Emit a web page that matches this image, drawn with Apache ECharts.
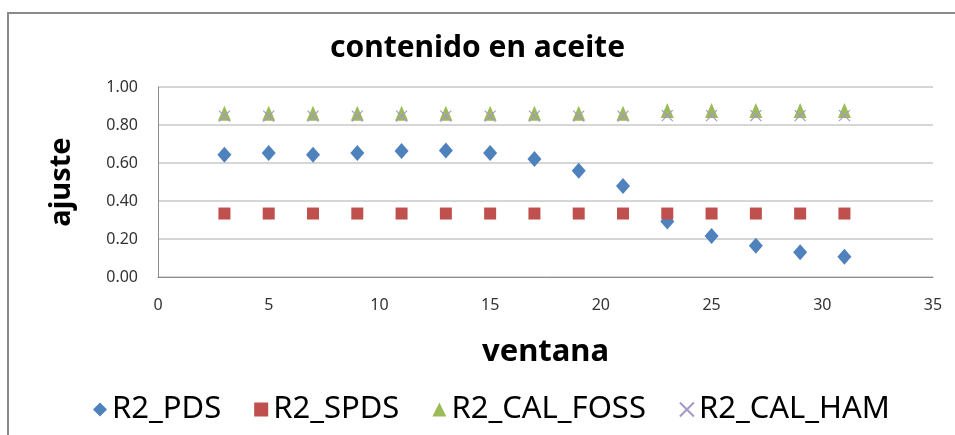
<!DOCTYPE html>
<html>
<head>
<meta charset="utf-8">
<script src="https://cdn.jsdelivr.net/npm/echarts@6/dist/echarts.min.js"></script>
<style>
  html, body { margin: 0; padding: 0; background: #fff; }
  #chart { width: 955px; height: 435px; }
</style>
</head>
<body>
<div id="chart"></div>
<script>
// datos
const ventana = [3, 5, 7, 9, 11, 13, 15, 17, 19, 21, 23, 25, 27, 29, 31];
const r2Pds = [0.643, 0.652, 0.643, 0.652, 0.663, 0.666, 0.652, 0.621, 0.559, 0.479, 0.292, 0.216, 0.164, 0.13, 0.107];
const r2Spds = [0.334, 0.334, 0.334, 0.334, 0.334, 0.334, 0.334, 0.334, 0.334, 0.334, 0.334, 0.334, 0.334, 0.334, 0.334];
const r2CalFoss = [0.862, 0.862, 0.862, 0.862, 0.862, 0.862, 0.862, 0.862, 0.862, 0.862, 0.876, 0.876, 0.876, 0.876, 0.876];
const r2CalHam = [0.847, 0.847, 0.847, 0.847, 0.847, 0.847, 0.847, 0.847, 0.847, 0.847, 0.849, 0.849, 0.849, 0.849, 0.849];
const yTicks = [0, 0.2, 0.4, 0.6, 0.8, 1.0];

const font = "'Liberation Sans Narrow', 'Noto Sans', sans-serif";
const pair = (ys) => ventana.map((x, i) => [x, ys[i]]);

const chart = echarts.init(document.getElementById("chart"));
chart.setOption({
  animation: false,
  textStyle: { fontFamily: font },
  graphic: [{
    type: "rect",
    shape: { x: 8, y: 13, width: 960, height: 440 },
    style: { fill: "none", stroke: "#8a8a8a", lineWidth: 2 },
    silent: true
  }],
  title: {
    text: "contenido en aceite",
    left: "center",
    top: 28,
    textStyle: { fontSize: 30, fontWeight: "bold", color: "#000", fontFamily: font }
  },
  grid: { left: 158, right: 22, top: 87, bottom: 158 },
  legend: {
    bottom: 5,
    left: 88,
    itemGap: 33,
    itemWidth: 14,
    itemHeight: 14,
    textStyle: { fontSize: 31, color: "#000", fontFamily: font },
    data: ["R2_PDS", "R2_SPDS", "R2_CAL_FOSS", "R2_CAL_HAM"]
  },
  xAxis: {
    type: "value",
    min: 0, max: 35, interval: 5,
    name: "ventana",
    nameLocation: "middle",
    nameGap: 60,
    nameTextStyle: { fontSize: 31, fontWeight: "bold", color: "#000", fontFamily: font },
    axisLine: { show: true, lineStyle: { color: "#8c8c8c" } },
    axisTick: { show: false },
    splitLine: { show: false },
    axisLabel: { fontSize: 16, color: "#333", margin: 20, fontFamily: font }
  },
  yAxis: {
    type: "value",
    min: yTicks[0], max: yTicks[yTicks.length - 1], interval: 0.2,
    name: "ajuste",
    nameLocation: "middle",
    nameGap: 82,
    nameTextStyle: { fontSize: 29, fontWeight: "bold", color: "#000", fontFamily: font },
    axisLine: { show: true, lineStyle: { color: "#8c8c8c" } },
    axisTick: { show: false },
    splitLine: { show: true, lineStyle: { color: "#c8c8c8", width: 1.5 } },
    axisLabel: { fontSize: 16, color: "#333", margin: 20, fontFamily: font, formatter: (v) => v.toFixed(2) }
  },
  series: [
    {
      name: "R2_PDS", type: "scatter", data: pair(r2Pds),
      symbol: "diamond", symbolSize: [14, 16],
      itemStyle: { color: "#4f81bd", opacity: 1 }
    },
    {
      name: "R2_SPDS", type: "scatter", data: pair(r2Spds),
      symbol: "rect", symbolSize: 12,
      itemStyle: { color: "#c0504d", opacity: 1 }
    },
    {
      name: "R2_CAL_FOSS", type: "scatter", data: pair(r2CalFoss),
      symbol: "triangle", symbolSize: [13, 15],
      itemStyle: { color: "#9bbb59", opacity: 1 }
    },
    {
      name: "R2_CAL_HAM", type: "scatter", data: pair(r2CalHam),
      symbol: "path://M0,0L10,10M10,0L0,10", symbolSize: 11,
      itemStyle: { color: "transparent", borderColor: "#a896c8", borderWidth: 1.2, opacity: 1 }
    }
  ]
});
</script>
</body>
</html>
